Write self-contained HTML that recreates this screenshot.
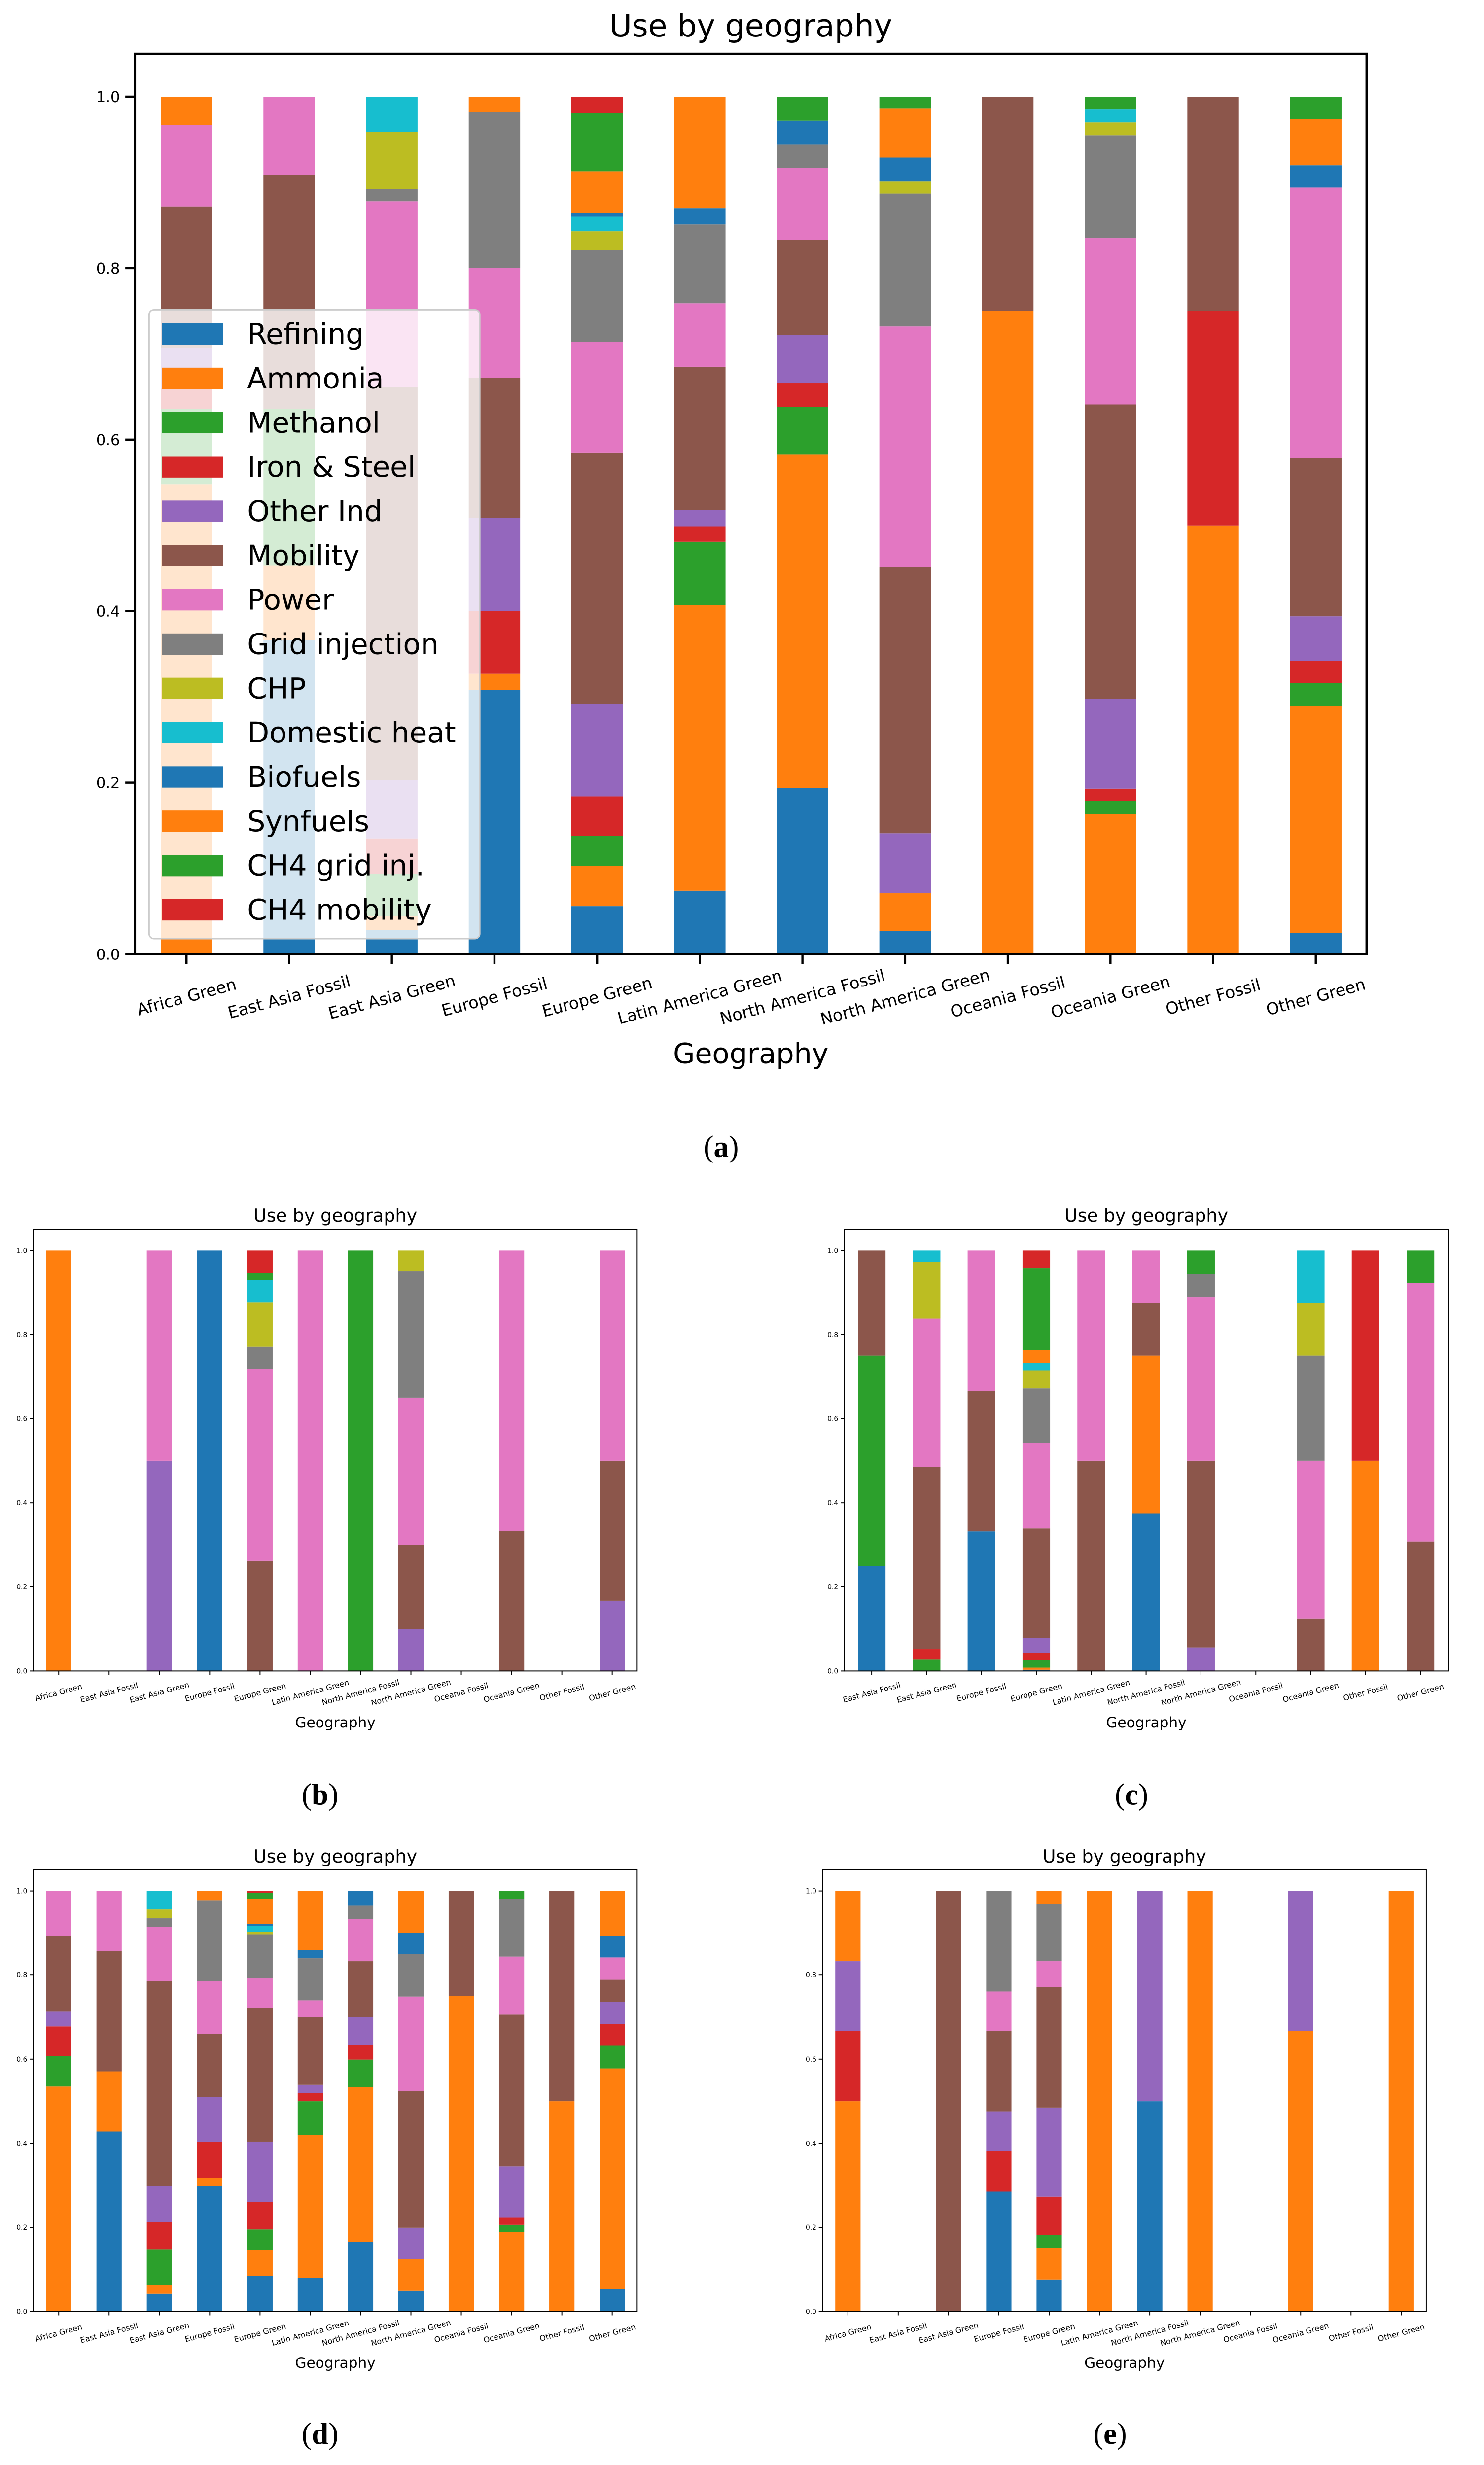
<!DOCTYPE html>
<html><head><meta charset="utf-8"><style>
html,body{margin:0;padding:0;background:#fff;width:3010px;height:5066px;overflow:hidden;}
svg{display:block;position:absolute;left:0;top:0;font-family:"DejaVu Sans","Liberation Sans",sans-serif;}
.cap{font-family:"Liberation Serif",serif;}
</style></head>
<body>
<svg width="3010" height="5066" viewBox="0 0 3010 5066" xmlns="http://www.w3.org/2000/svg" overflow="hidden"><g id="fig" transform="scale(0.985)"></g></svg>
<script>
const seriesNames = ["Refining","Ammonia","Methanol","Iron & Steel","Other Ind","Mobility","Power","Grid injection","CHP","Domestic heat","Biofuels","Synfuels","CH4 grid inj.","CH4 mobility"];
const seriesColors = ["#1f77b4","#ff7f0e","#2ca02c","#d62728","#9467bd","#8c564b","#e377c2","#7f7f7f","#bcbd22","#17becf","#1f77b4","#ff7f0e","#2ca02c","#d62728"];
const catsFull = ["Africa Green","East Asia Fossil","East Asia Green","Europe Fossil","Europe Green","Latin America Green","North America Fossil","North America Green","Oceania Fossil","Oceania Green","Other Fossil","Other Green"];
const catsC = ["East Asia Fossil","East Asia Green","Europe Fossil","Europe Green","Latin America Green","North America Fossil","North America Green","Oceania Fossil","Oceania Green","Other Fossil","Other Green"];
const yTicks = [0,0.2,0.4,0.6,0.8,1.0];
const yTickLabels = ["0.0","0.2","0.4","0.6","0.8","1.0"];
// stacks: per category, [seriesIndex, cumulative top]
const stacksA = [
 [[1,.548],[2,.636],[3,.66],[4,.707],[5,.872],[6,.967],[11,1]],
 [[0,.366],[1,.453],[2,.636],[5,.909],[6,1]],
 [[0,.028],[1,.044],[2,.094],[3,.135],[4,.203],[5,.662],[6,.878],[7,.892],[8,.959],[9,1]],
 [[0,.308],[1,.327],[3,.400],[4,.509],[5,.672],[6,.800],[7,.982],[11,1]],
 [[0,.056],[1,.103],[2,.138],[3,.184],[4,.292],[5,.585],[6,.714],[7,.821],[8,.843],[9,.860],[10,.864],[11,.913],[12,.981],[13,1]],
 [[0,.074],[1,.407],[2,.481],[3,.499],[4,.518],[5,.685],[6,.759],[7,.851],[10,.870],[11,1]],
 [[0,.194],[1,.583],[2,.638],[3,.666],[4,.722],[5,.833],[6,.917],[7,.944],[10,.972],[12,1]],
 [[0,.027],[1,.071],[4,.141],[5,.451],[6,.732],[7,.887],[8,.901],[10,.929],[11,.986],[12,1]],
 [[1,.75],[5,1]],
 [[1,.163],[2,.179],[3,.193],[4,.298],[5,.641],[6,.835],[7,.955],[8,.970],[9,.985],[12,1]],
 [[1,.5],[3,.75],[5,1]],
 [[0,.025],[1,.289],[2,.316],[3,.342],[4,.394],[5,.579],[6,.894],[10,.920],[11,.974],[12,1]]
];
const stacksB = [
 [[1,1]], [],
 [[4,.5],[6,1]],
 [[0,1]],
 [[5,.262],[6,.718],[7,.771],[8,.877],[9,.929],[12,.946],[13,1]],
 [[6,1]], [[2,1]],
 [[4,.1],[5,.3],[6,.65],[7,.95],[8,1]],
 [], [[5,.333],[6,1]], [],
 [[4,.167],[5,.5],[6,1]]
];
const stacksC = [
 [[0,.25],[2,.75],[5,1]],
 [[2,.027],[3,.052],[5,.485],[6,.838],[8,.973],[9,1]],
 [[0,.332],[5,.666],[6,1]],
 [[0,.003],[1,.008],[2,.026],[3,.043],[4,.078],[5,.339],[6,.543],[7,.672],[8,.715],[9,.732],[11,.763],[12,.957],[13,1]],
 [[5,.5],[6,1]],
 [[0,.375],[1,.75],[5,.875],[6,1]],
 [[4,.056],[5,.5],[6,.889],[7,.944],[12,1]],
 [],
 [[5,.125],[6,.5],[7,.75],[8,.875],[9,1]],
 [[1,.5],[3,1]],
 [[5,.308],[6,.923],[12,1]]
];
const stacksD = [
 [[1,.535],[2,.607],[3,.678],[4,.713],[5,.893],[6,1]],
 [[0,.428],[1,.571],[5,.857],[6,1]],
 [[0,.042],[1,.063],[2,.148],[3,.212],[4,.298],[5,.786],[6,.914],[7,.935],[8,.956],[9,1]],
 [[0,.298],[1,.318],[3,.404],[4,.510],[5,.660],[6,.786],[7,.978],[11,1]],
 [[0,.084],[1,.147],[2,.195],[3,.260],[4,.404],[5,.721],[6,.792],[7,.897],[8,.903],[9,.917],[10,.922],[11,.981],[12,.996],[13,1]],
 [[0,.080],[1,.420],[2,.5],[3,.519],[4,.539],[5,.7],[6,.740],[7,.840],[10,.860],[11,1]],
 [[0,.166],[1,.533],[2,.599],[3,.633],[4,.7],[5,.833],[6,.933],[7,.965],[10,1]],
 [[0,.049],[1,.124],[4,.199],[5,.524],[6,.749],[7,.850],[10,.9],[11,1]],
 [[1,.75],[5,1]],
 [[1,.189],[2,.206],[3,.224],[4,.345],[5,.706],[6,.844],[7,.981],[12,1]],
 [[1,.5],[5,1]],
 [[0,.053],[1,.578],[2,.632],[3,.684],[4,.736],[5,.789],[6,.842],[10,.894],[11,1]]
];
const stacksE = [
 [[1,.5],[3,.667],[4,.833],[11,1]],
 [], [[5,1]],
 [[0,.285],[3,.381],[4,.476],[5,.667],[6,.761],[7,1]],
 [[0,.076],[1,.151],[2,.182],[3,.273],[4,.485],[5,.772],[6,.833],[7,.969],[11,1]],
 [[1,1]], [[0,.5],[4,1]], [[1,1]], [], [[1,.667],[4,1]], [], [[1,1]]
];

const NS = "http://www.w3.org/2000/svg";
const fig = document.getElementById("fig");
function mk(tag, attrs, parent){
  const e = document.createElementNS(NS, tag);
  for (const k in attrs) e.setAttribute(k, attrs[k]);
  (parent||fig).appendChild(e);
  return e;
}

function drawChart(cfg){
  const g = mk("g", {});
  
  
  const yS = v => cfg.y0 - v * (cfg.y0 - cfg.y1);
  const xS = i => cfg.c0 + i * cfg.sp;
  const top = yS(1.05);
  cfg.stacks.forEach((st, i) => {
    let prev = 0;
    st.forEach(([s, t]) => {
      const r = mk("rect", {x: xS(i) - cfg.bw/2, y: yS(t), width: cfg.bw, height: yS(prev) - yS(t), fill: seriesColors[s]}, g);
      
      
      prev = t;
    });
  });
  const fr = mk("rect", {x: cfg.left, y: top, width: cfg.right - cfg.left, height: cfg.y0 - top, fill: "none", stroke: "#000", "stroke-width": cfg.lw}, g);
  
  
  yTicks.forEach((v, k) => {
    const y = yS(v);
    mk("line", {x1: cfg.left - cfg.tl, x2: cfg.left, y1: y, y2: y, stroke: "#000", "stroke-width": cfg.lw}, g);
    const t = mk("text", {x: cfg.left - cfg.tl - cfg.tf*0.35, y: y + cfg.tf*0.36, "font-size": cfg.tf, "text-anchor": "end"}, g);
    t.textContent = yTickLabels[k];
    
    
  });
  cfg.cats.forEach((c, i) => {
    const x = xS(i);
    mk("line", {x1: x, x2: x, y1: cfg.y0, y2: cfg.y0 + cfg.tl, stroke: "#000", "stroke-width": cfg.lw}, g);
    const ly = cfg.y0 + cfg.xo;
    const t = mk("text", {x: x, y: ly, "font-size": cfg.xf, "text-anchor": "middle", "dominant-baseline": "central", transform: `rotate(-15 ${x} ${ly})`}, g);
    t.textContent = c;
    
    
  });
  const cx = (cfg.left + cfg.right) / 2;
  const ti = mk("text", {x: cx, y: cfg.ty, "font-size": cfg.titf, "text-anchor": "middle", "dominant-baseline": "central"}, g);
  ti.textContent = "Use by geography";
  
  
  const xl = mk("text", {x: cx, y: cfg.xly, "font-size": cfg.xlf, "text-anchor": "middle", "dominant-baseline": "central"}, g);
  xl.textContent = "Geography";
  
  
  const cp = mk("text", {x: cfg.capx, y: cfg.capy, "font-size": 62, "text-anchor": "middle", "dominant-baseline": "central", class: "cap"}, g);
  cp.innerHTML = '(<tspan font-weight="bold">' + cfg.id + '</tspan>)';
  
  
  return g;
}

drawChart({id:"a", cats:catsFull, stacks:stacksA, left:278, right:2814, y0:1965, y1:199, c0:384, sp:211.4, bw:106, lw:4.5, tl:20, tf:31, xf:34, xo:88, ty:53, titf:64, xly:2170, xlf:58, capx:1485, capy:2362});
drawChart({id:"b", cats:catsFull, stacks:stacksB, left:69, right:1312, y0:3441, y1:2575, c0:121, sp:103.6, bw:52, lw:2, tl:8, tf:14, xf:16, xo:44, ty:2503, titf:37, xly:3547, xlf:30, capx:659, capy:3696});
drawChart({id:"c", cats:catsC, stacks:stacksC, left:1739, right:2982, y0:3441, y1:2575, c0:1795, sp:113, bw:57, lw:2, tl:8, tf:14, xf:16, xo:44, ty:2503, titf:37, xly:3547, xlf:30, capx:2330, capy:3696});
drawChart({id:"d", cats:catsFull, stacks:stacksD, left:69, right:1312, y0:4760, y1:3894, c0:121, sp:103.6, bw:52, lw:2, tl:8, tf:14, xf:16, xo:44, ty:3823, titf:37, xly:4866, xlf:30, capx:659, capy:5012});
drawChart({id:"e", cats:catsFull, stacks:stacksE, left:1694, right:2937, y0:4760, y1:3894, c0:1746, sp:103.6, bw:52, lw:2, tl:8, tf:14, xf:16, xo:44, ty:3823, titf:37, xly:4866, xlf:30, capx:2286, capy:5012});

const lg = mk("g", {});


const lb = mk("rect", {x:307, y:638, width:681, height:1295, rx:10, fill:"#fff", "fill-opacity":0.8, stroke:"#cccccc", "stroke-width":3}, lg);


seriesNames.forEach((n, i) => {
  const y = 688 + i * 91.2;
  const sw = mk("rect", {x:334, y:y - 22, width:125, height:44, fill: seriesColors[i]}, lg);
  
  
  const t = mk("text", {x:509, y:y, "font-size":59, "dominant-baseline":"central"}, lg);
  t.textContent = n;
  
  
});
</script>
</body></html>
